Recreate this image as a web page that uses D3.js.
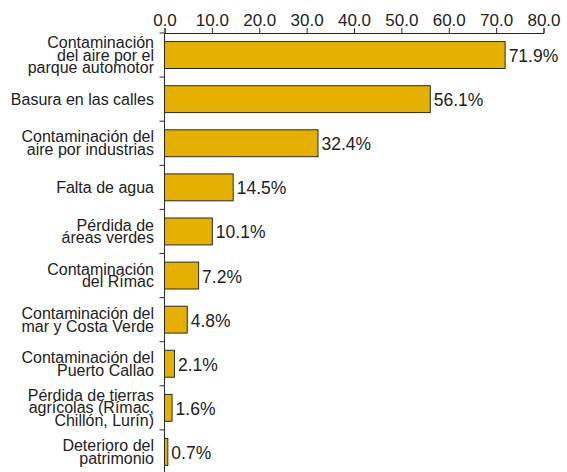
<!DOCTYPE html>
<html>
<head>
<meta charset="utf-8">
<script src="https://cdn.jsdelivr.net/npm/d3@7"></script>
<style>
  html, body { margin: 0; padding: 0; background: #fff; }
  svg { display: block; font-family: "Liberation Sans", Arial, sans-serif; }
</style>
</head>
<body>
<div id="vis"></div>
<script>
// problem categories, line breaks as in the printed chart
const categories = [
  "Contaminación\ndel aire por el\nparque automotor",
  "Basura en las calles",
  "Contaminación del\naire por industrias",
  "Falta de agua",
  "Pérdida de\náreas verdes",
  "Contaminación\ndel Rímac",
  "Contaminación del\nmar y Costa Verde",
  "Contaminación del\nPuerto Callao",
  "Pérdida de tierras\nagrícolas (Rímac,\nChillón, Lurín)",
  "Deterioro del\npatrimonio"
];
const values = [71.9, 56.1, 32.4, 14.5, 10.1, 7.2, 4.8, 2.1, 1.6, 0.7];
const xTicks = [0, 10, 20, 30, 40, 50, 60, 70, 80];

const width = 567, height = 472;
const margin = {top: 33, left: 164.5, right: 24};
const barColor = "#e6b000";
const lineColor = "#2a2a2a";

const svg = d3.select("#vis").append("svg")
  .attr("width", width)
  .attr("height", height);

const x = d3.scaleLinear()
  .domain([0, 80])
  .range([margin.left, 543.5]);

const y = d3.scaleBand()
  .domain(d3.range(categories.length))
  .range([margin.top, margin.top + 44.1 * categories.length])
  .paddingInner(0.39)
  .paddingOuter(0.195);

// top axis
const xAxis = svg.append("g")
  .attr("transform", `translate(0,${margin.top})`)
  .call(d3.axisTop(x).tickValues(xTicks).tickFormat(d3.format(".1f")).tickSize(5).tickPadding(2));
xAxis.select(".domain").attr("stroke", lineColor);
xAxis.selectAll(".tick line").attr("stroke", lineColor);
xAxis.selectAll("text")
  .attr("fill", "#222")
  .style("font-size", "17px")
  .style("font-family", "'Liberation Sans', Arial, sans-serif");

// left axis: vertical line with ticks between categories
const step = y.step();
const bounds = d3.range(categories.length + 1).map(i => margin.top + i * step);
svg.append("line")
  .attr("x1", margin.left).attr("x2", margin.left)
  .attr("y1", margin.top).attr("y2", height + 5)
  .attr("stroke", lineColor);
svg.selectAll(".ytick").data(bounds).enter()
  .append("line")
  .attr("class", "ytick")
  .attr("x1", margin.left - 5).attr("x2", margin.left)
  .attr("y1", d => d).attr("y2", d => d)
  .attr("stroke", lineColor);

// bars
svg.selectAll(".bar").data(values).enter()
  .append("rect")
  .attr("class", "bar")
  .attr("x", x(0))
  .attr("y", (d, i) => y(i))
  .attr("width", d => x(d) - x(0))
  .attr("height", y.bandwidth())
  .attr("fill", barColor)
  .attr("stroke", lineColor)
  .attr("stroke-width", 1);

// value labels
svg.selectAll(".val").data(values).enter()
  .append("text")
  .attr("class", "val")
  .attr("x", d => x(d) + 3.5)
  .attr("y", (d, i) => y(i) + y.bandwidth() / 2 + 7)
  .attr("fill", "#222")
  .style("font-size", "17.5px")
  .text(d => d3.format(".1f")(d) + "%");

// category labels
const lineH = 12.8;
svg.selectAll(".cat").data(categories).enter()
  .append("text")
  .attr("class", "cat")
  .attr("text-anchor", "end")
  .attr("fill", "#222")
  .style("font-size", "16px")
  .each(function(d, i) {
    const lines = d.split("\n");
    const cy = y(i) + y.bandwidth() / 2 + 5.5;
    d3.select(this).selectAll("tspan").data(lines).enter()
      .append("tspan")
      .attr("x", 154)
      .attr("y", (l, j) => cy + (j - (lines.length - 1) / 2) * lineH)
      .text(l => l);
  });
</script>
</body>
</html>
